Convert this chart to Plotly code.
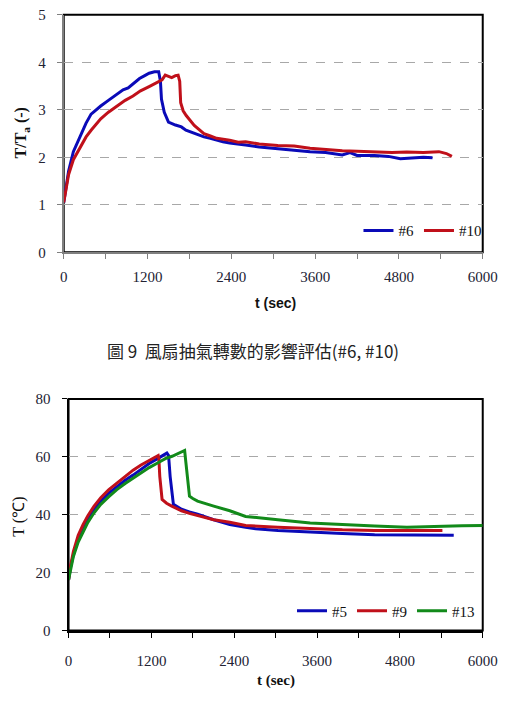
import plotly.graph_objects as go

W, H = 517, 708

# ---------- Data: chart 1 (T/Ta) ----------
t6 = [0, 30, 70, 138, 200, 254, 320, 392, 460, 530, 640, 760, 850, 923, 1000, 1085, 1160, 1223, 1300, 1360,
      1385, 1400, 1440, 1500, 1600, 1685, 1750, 1823, 1900, 2008, 2100, 2190, 2280, 2377, 2500, 2604, 2800,
      3066, 3300, 3527, 3750, 3989, 4100, 4200, 4450, 4650, 4820, 5000, 5150, 5281]
v6 = [1.05, 1.35, 1.71, 2.12, 2.33, 2.5, 2.72, 2.91, 3.0, 3.08, 3.2, 3.32, 3.42, 3.46, 3.55, 3.66, 3.72, 3.77, 3.8, 3.8,
      3.6, 3.22, 2.95, 2.74, 2.68, 2.64, 2.57, 2.53, 2.5, 2.43, 2.4, 2.36, 2.33, 2.3, 2.27, 2.26, 2.22,
      2.18, 2.15, 2.12, 2.1, 2.05, 2.1, 2.04, 2.04, 2.02, 1.97, 1.99, 2.0, 1.99]

t10 = [0, 30, 70, 138, 200, 254, 320, 392, 460, 530, 640, 760, 880, 992, 1100, 1223, 1320, 1408, 1454, 1500,
       1546, 1600, 1638, 1661, 1675, 1710, 1754, 1869, 2008, 2100, 2190, 2377, 2500, 2604, 2800, 3066, 3300,
       3527, 3750, 3989, 4200, 4450, 4700, 4912, 5150, 5373, 5480, 5558]
v10 = [1.05, 1.3, 1.64, 1.95, 2.12, 2.26, 2.43, 2.57, 2.7, 2.81, 2.95, 3.08, 3.2, 3.29, 3.4, 3.49, 3.56, 3.63, 3.73, 3.7,
       3.68, 3.72, 3.73, 3.6, 3.15, 2.98, 2.88, 2.67, 2.5, 2.45, 2.40, 2.36, 2.32, 2.33, 2.28, 2.25, 2.24,
       2.19, 2.16, 2.14, 2.13, 2.11, 2.1, 2.11, 2.1, 2.12, 2.08, 2.02]

# ---------- Data: chart 2 (T, deg C) ----------
t5 = [0, 30, 70, 140, 210, 280, 370, 467, 580, 700, 820, 935, 1050, 1168, 1290, 1402, 1425, 1449, 1472, 1519,
      1636, 1750, 1869, 2103, 2336, 2565, 2710, 3032, 3500, 3967, 4434, 4902, 5250, 5580]
v5 = [17.5, 22, 26.1, 31.8, 35.5, 38.5, 41.8, 44.7, 47.4, 49.8, 51.9, 53.7, 55.8, 57.7, 59.4, 60.8, 61.3, 60.5, 53.2, 43.6,
      41.9, 41.0, 40.2, 38.3, 36.6, 35.7, 35.2, 34.6, 34.0, 33.5, 33.1, 33.1, 33.0, 32.9]

t9 = [0, 30, 70, 140, 210, 280, 370, 467, 580, 700, 820, 935, 1050, 1168, 1240, 1299, 1308, 1322, 1355, 1420,
      1495, 1636, 1750, 1869, 2103, 2336, 2565, 3032, 3500, 3967, 4434, 4902, 5200, 5416]
v9 = [17.5, 22.5, 27.3, 32.9, 36.6, 39.7, 43.0, 45.9, 48.6, 50.9, 53.3, 55.4, 57.2, 58.8, 59.7, 60.5, 59.5, 53.2, 45.3, 44.0,
      43.0, 41.4, 40.5, 39.7, 38.3, 37.4, 36.3, 35.7, 35.2, 34.8, 34.6, 34.6, 34.5, 34.6]

t13 = [0, 30, 70, 140, 210, 280, 370, 467, 580, 700, 820, 935, 1050, 1168, 1290, 1402, 1500, 1589, 1640, 1682,
       1700, 1720, 1752, 1800, 1869, 2103, 2336, 2565, 2710, 3032, 3500, 3967, 4434, 4902, 5369, 5700, 6000]
v13 = [17.5, 21.5, 25.6, 30.6, 34.3, 37.4, 40.7, 43.6, 46.2, 48.7, 50.8, 52.6, 54.5, 56.3, 57.9, 59.4, 60.2, 61.1, 61.6, 62.2,
       58.0, 53.2, 46.4, 45.6, 44.7, 43.0, 41.4, 39.4, 39.1, 38.3, 37.2, 36.6, 36.1, 35.7, 36.1, 36.2, 36.3]

names1 = ["#6", "#10"]
names2 = ["#5", "#9", "#13"]
caption = "圖 9  風扇抽氣轉數的影響評估(#6, #10)"
ytitle1 = "<b>T/T<sub>a</sub> (-)</b>"
ytitle2 = "T (℃)"
xtitle = "<b>t (sec)</b>"

BLUE, RED, GREEN = "#0A0AB8", "#C0101A", "#128A1A"
SERIF = "Liberation Serif"
TICKC = "#222233"

# pixel geometry -> paper
def px(x):
    return x / W
def py(y):
    return 1 - y / H

p1 = dict(l=62, r=497, t=7, b=250)
p2 = dict(l=67, r=497, t=400, b=637)

fig = go.Figure()
fig.add_trace(go.Scatter(x=t6, y=v6, name=names1[0], mode="lines", line=dict(color=BLUE, width=3),
                         xaxis="x", yaxis="y", legend="legend"))
fig.add_trace(go.Scatter(x=t10, y=v10, name=names1[1], mode="lines", line=dict(color=RED, width=3),
                         xaxis="x", yaxis="y", legend="legend"))
fig.add_trace(go.Scatter(x=t5, y=v5, name=names2[0], mode="lines", line=dict(color=BLUE, width=3),
                         xaxis="x2", yaxis="y2", legend="legend2"))
fig.add_trace(go.Scatter(x=t9, y=v9, name=names2[1], mode="lines", line=dict(color=RED, width=3),
                         xaxis="x2", yaxis="y2", legend="legend2"))
fig.add_trace(go.Scatter(x=t13, y=v13, name=names2[2], mode="lines", line=dict(color=GREEN, width=3),
                         xaxis="x2", yaxis="y2", legend="legend2"))

tickfont = dict(family=SERIF, size=15, color=TICKC)

def xax(dom, anchor, lc, standoff):
    return dict(domain=dom, anchor=anchor, range=[0, 6000], dtick=1200, tick0=0,
                ticks="outside", ticklen=5, tickcolor=lc, tickwidth=1,
                minor=dict(dtick=600, ticks="outside", ticklen=5, tickcolor=lc, showgrid=False),
                showline=True, linecolor=lc, linewidth=2, showgrid=False, zeroline=False,
                tickfont=tickfont, ticklabelstandoff=standoff, fixedrange=True)

def yax(dom, anchor, rng, dt, lc):
    return dict(domain=dom, anchor=anchor, range=rng, dtick=dt, ticks="outside", ticklen=5,
                tickcolor=lc, tickwidth=1, showline=True, linecolor=lc, linewidth=2,
                showgrid=True, gridcolor="#a8a8a8", griddash="dash", gridwidth=1, zeroline=False,
                tickfont=tickfont, ticklabelstandoff=8, fixedrange=True)

legfont = dict(family=SERIF, size=15, color="#111")
fig.update_layout(
    width=W, height=H, margin=dict(l=0, r=0, t=0, b=0),
    paper_bgcolor="white", plot_bgcolor="white",
    xaxis=xax([px(p1["l"]), px(p1["r"])], "y", "#808080", 5),
    yaxis=yax([py(p1["b"]), py(p1["t"])], "x", [0, 5], 1, "#808080"),
    xaxis2=xax([px(p2["l"]), px(p2["r"])], "y2", "#000000", 10),
    yaxis2=yax([py(p2["b"]), py(p2["t"])], "x2", [0, 80], 20, "#000000"),
    legend=dict(orientation="h", x=px(368), y=py(228), xanchor="left", yanchor="middle",
                font=legfont, bgcolor="rgba(0,0,0,0)", itemwidth=30, tracegroupgap=0),
    legend2=dict(orientation="h", x=px(299), y=py(617), xanchor="left", yanchor="middle",
                 font=legfont, bgcolor="rgba(0,0,0,0)", itemwidth=30, tracegroupgap=0),
    showlegend=True,
)

# plot-area borders (black frame)
for p in (p1, p2):
    fig.add_shape(type="rect", xref="paper", yref="paper",
                  x0=px(p["l"]), x1=px(p["r"]), y0=py(p["b"]), y1=py(p["t"]),
                  line=dict(color="black", width=2), layer="below")

anns = [
    dict(text=ytitle1, x=px(18), y=py(128), textangle=-90,
         font=dict(family=SERIF, size=16, color="#111")),
    dict(text=xtitle, x=px(282), y=py(302),
         font=dict(family="Liberation Sans", size=14, color="#111")),
    dict(text=caption, x=px(258), y=py(350),
         font=dict(family="Noto Sans CJK TC", size=17, color="#222")),
    dict(text=ytitle2, x=px(16), y=py(520), textangle=-90,
         font=dict(family=SERIF, size=16, color="#111")),
    dict(text=xtitle, x=px(282), y=py(688),
         font=dict(family=SERIF, size=15, color="#111")),
]
for a in anns:
    fig.add_annotation(xref="paper", yref="paper", showarrow=False, xanchor="center", yanchor="middle", **a)

fig.write_html("out.html")
